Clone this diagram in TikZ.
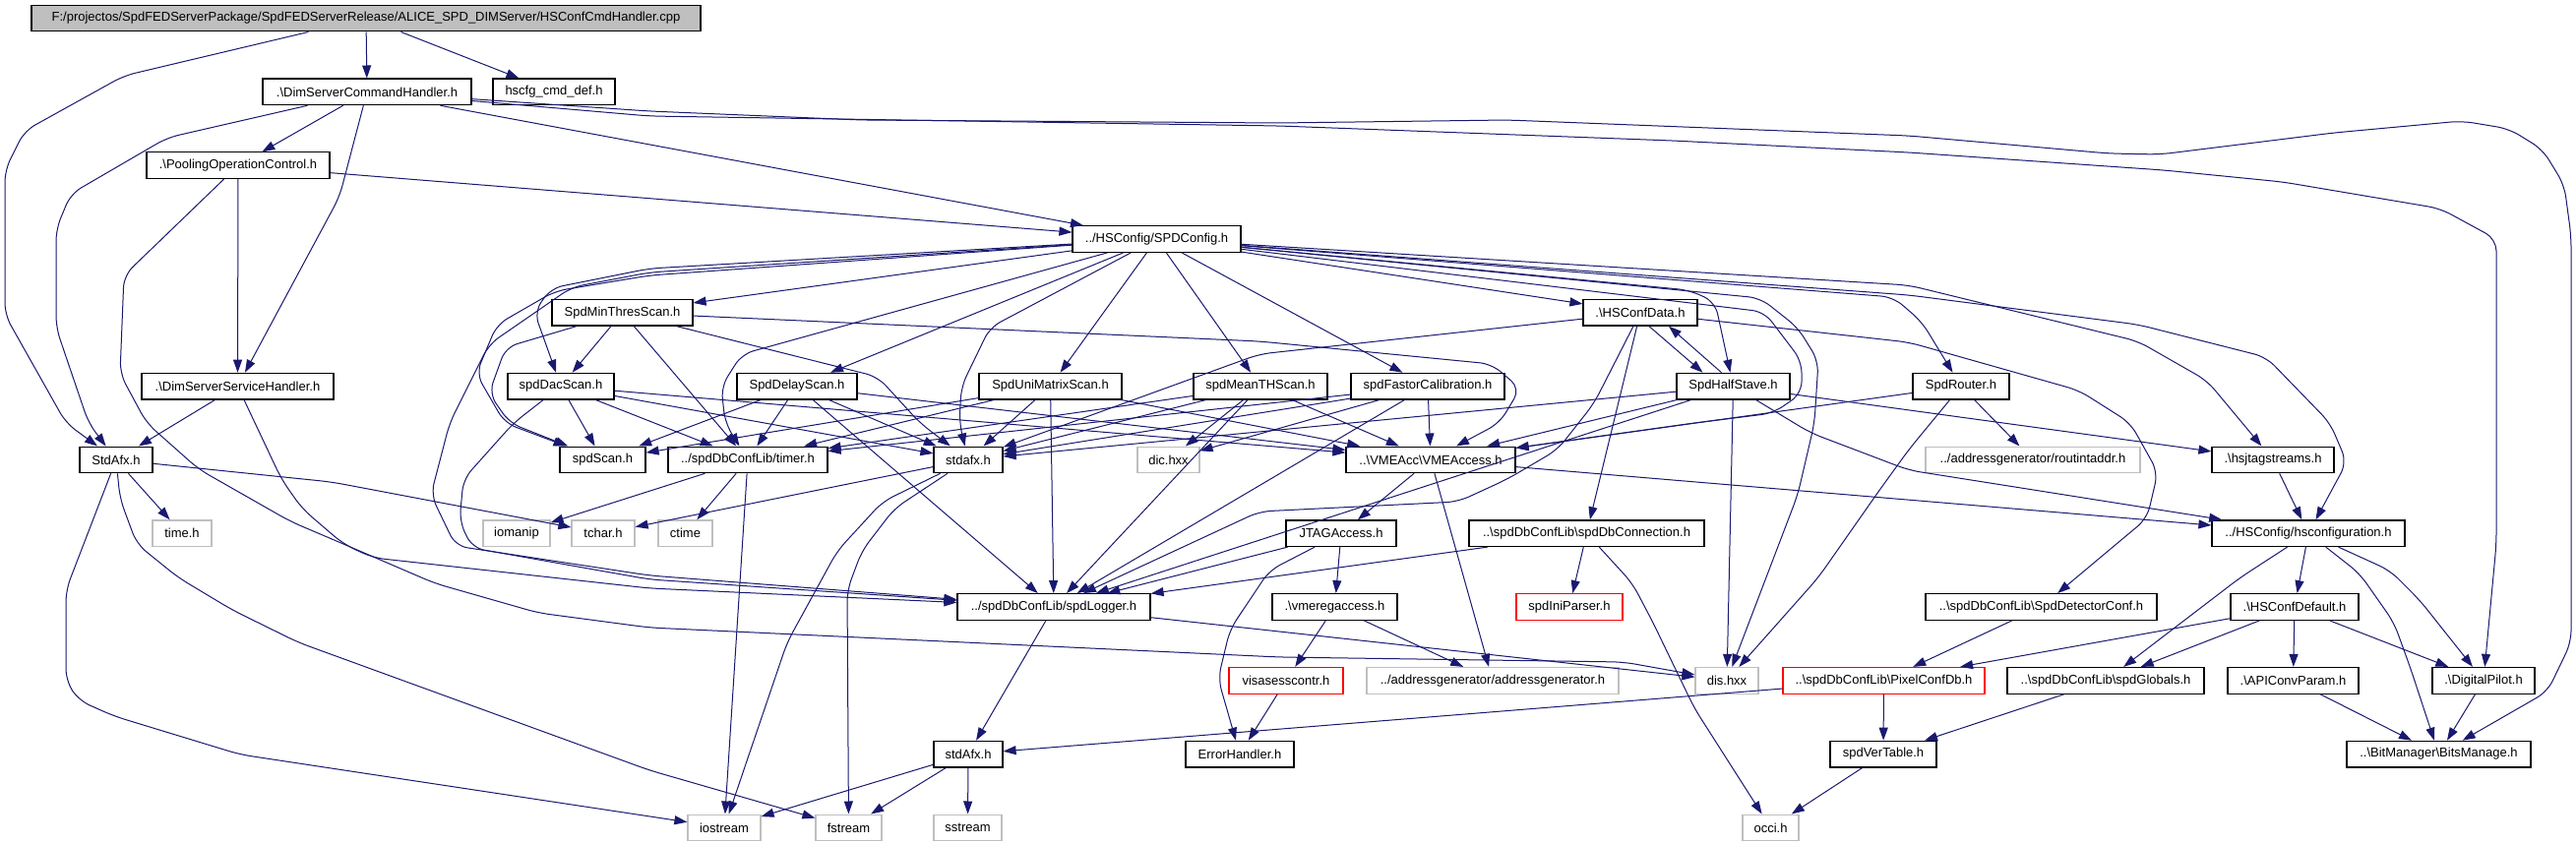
\documentclass[tikz,border=0pt]{standalone}
\usepackage{fontspec}
\setmainfont{Liberation Sans}
\usetikzlibrary{arrows.meta}
\definecolor{eblue}{HTML}{191970}
\definecolor{gbord}{HTML}{BFBFBF}
\newcommand{\bsl}{\textbackslash}
\begin{document}
\begin{tikzpicture}[x=1pt,y=-1pt,
  box/.style={draw=black, line width=1.2pt, minimum height=26.6pt, inner sep=0pt, font=\fontsize{13}{15}\selectfont, text=black},
  gbox/.style={box, draw=gbord},
  rbox/.style={box, draw=red},
  edge/.style={draw=eblue, line width=1pt, -{Triangle[length=13pt,width=9pt]}, rounded corners=12pt},
]
\useasboundingbox[fill=white] (0,0) rectangle (2618,858);
% rank 0-5
\node[box, fill=gbord, minimum width=680pt] (root) at (372,18.6) {F:/projectos/SpdFEDServerPackage/SpdFEDServerRelease/ALICE\_SPD\_DIMServer/HSConfCmdHandler.cpp};
\node[box, minimum width=212pt] (dsch) at (373,93.4) {.\bsl DimServerCommandHandler.h};
\node[box, minimum width=124pt] (hscfg) at (563,93.4) {hscfg\_cmd\_def.h};
\node[box, minimum width=186pt] (pool) at (242,168.2) {.\bsl PoolingOperationControl.h};
\node[box, minimum width=171pt] (spdcfg) at (1175.5,243) {../HSConfig/SPDConfig.h};
\node[box, minimum width=143pt] (minthr) at (632.5,317.8) {SpdMinThresScan.h};
\node[box, minimum width=116pt] (hsdata) at (1667,317.8) {.\bsl HSConfData.h};
\node[box, minimum width=195pt] (dssh) at (241.5,392.6) {.\bsl DimServerServiceHandler.h};
\node[box, minimum width=108pt] (dac) at (570,392.6) {spdDacScan.h};
\node[box, minimum width=122pt] (delay) at (810,392.6) {SpdDelayScan.h};
\node[box, minimum width=145pt] (unim) at (1067.5,392.6) {SpdUniMatrixScan.h};
\node[box, minimum width=136pt] (meanth) at (1281,392.6) {spdMeanTHScan.h};
\node[box, minimum width=156pt] (fastor) at (1451,392.6) {spdFastorCalibration.h};
\node[box, minimum width=115pt] (halfst) at (1761.5,392.6) {SpdHalfStave.h};
\node[box, minimum width=98pt] (router) at (1993,392.6) {SpdRouter.h};
% rank 6
\node[box, minimum width=74pt] (stdafxA) at (118,467.4) {StdAfx.h};
\node[box, minimum width=87pt] (scan) at (612.5,467.4) {spdScan.h};
\node[box, minimum width=162pt] (timer) at (760,467.4) {../spdDbConfLib/timer.h};
\node[box, minimum width=70pt] (stdafxB) at (984,467.4) {stdafx.h};
\node[gbox, minimum width=63pt] (dic) at (1187.5,467.4) {dic.hxx};
\node[box, minimum width=172pt] (vme) at (1454,467.4) {..\bsl VMEAcc\bsl VMEAccess.h};
\node[gbox, minimum width=218pt] (routaddr) at (2066,467.4) {../addressgenerator/routintaddr.h};
\node[box, minimum width=124pt] (hsjtag) at (2310,467.4) {.\bsl hsjtagstreams.h};
% rank 7
\node[gbox, minimum width=60pt] (timeh) at (185,542.2) {time.h};
\node[gbox, minimum width=68pt] (iomanip) at (525,542.2) {iomanip};
\node[gbox, minimum width=64pt] (tchar) at (613,542.2) {tchar.h};
\node[gbox, minimum width=55pt] (ctime) at (696.5,542.2) {ctime};
\node[box, minimum width=112pt] (jtag) at (1363,542.2) {JTAGAccess.h};
\node[box, minimum width=239pt] (dbconn) at (1612.5,542.2) {..\bsl spdDbConfLib\bsl spdDbConnection.h};
\node[box, minimum width=196pt] (hsconf) at (2346,542.2) {../HSConfig/hsconfiguration.h};
% rank 8
\node[box, minimum width=196pt] (logger) at (1071,617) {../spdDbConfLib/spdLogger.h};
\node[box, minimum width=127pt] (vmereg) at (1356.5,617) {.\bsl vmeregaccess.h};
\node[rbox, minimum width=108pt] (inipar) at (1595,617) {spdIniParser.h};
\node[box, minimum width=235pt] (detconf) at (2074.5,617) {..\bsl spdDbConfLib\bsl SpdDetectorConf.h};
\node[box, minimum width=130pt] (hsdef) at (2332,617) {.\bsl HSConfDefault.h};
% rank 9
\node[rbox, minimum width=116pt] (visa) at (1307,691.8) {visasesscontr.h};
\node[gbox, minimum width=256pt] (addrgen) at (1517,691.8) {../addressgenerator/addressgenerator.h};
\node[gbox, minimum width=64pt] (dis) at (1755,691.8) {dis.hxx};
\node[rbox, minimum width=205pt] (pixel) at (1914.5,691.8) {..\bsl spdDbConfLib\bsl PixelConfDb.h};
\node[box, minimum width=200pt] (globals) at (2140,691.8) {..\bsl spdDbConfLib\bsl spdGlobals.h};
\node[box, minimum width=133pt] (apiconv) at (2330.5,691.8) {.\bsl APIConvParam.h};
\node[box, minimum width=104pt] (digpilot) at (2524,691.8) {.\bsl DigitalPilot.h};
% rank 10
\node[box, minimum width=70pt] (stdafxC) at (984,766.6) {stdAfx.h};
\node[box, minimum width=110pt] (errh) at (1260,766.6) {ErrorHandler.h};
\node[box, minimum width=108pt] (vertab) at (1914,766.6) {spdVerTable.h};
\node[box, minimum width=187pt] (bits) at (2478.5,766.6) {..\bsl BitManager\bsl BitsManage.h};
% rank 11
\node[gbox, minimum width=74pt] (iostream) at (736,841.4) {iostream};
\node[gbox, minimum width=67pt] (fstream) at (862.5,841.4) {fstream};
\node[gbox, minimum width=69pt] (sstream) at (983.5,841.4) {sstream};
\node[gbox, minimum width=57pt] (occi) at (1799.5,841.4) {occi.h};

% ---- edges ----
% root
\draw[edge] (root) -- (dsch);
\draw[edge] (root) -- (hscfg);
\draw[edge] (root) -- (126,77) -- (25,133) -- (5,173) -- (5,320) -- (67,430) -- (stdafxA);
% DimServerCommandHandler
\draw[edge] (dsch) -- (pool);
\draw[edge] (dsch) -- (345,200) -- (dssh);
\draw[edge] (dsch) -- (170,140) -- (72,197) -- (57,233) -- (57,333) -- (90,430) -- (stdafxA);
\draw[edge] (dsch) -- (spdcfg);
\draw[edge] (dsch) -- (660,113) -- (875,122) -- (1300,125) -- (1532,122) -- (1940,138) -- (2143,156) -- (2195,157) -- (2372,135) -- (2502,123) -- (2550,131) -- (2584,152) -- (2606,188) -- (2613,240) -- (2613,653) -- (2589,703) -- (bits);
\draw[edge] (dsch) -- (660,118) -- (1300,128) -- (1700,143) -- (1940,155) -- (2199,173) -- (2320,185) -- (2480,212) -- (2537,243) -- (2537,553) -- (digpilot);
% Pooling
\draw[edge] (pool) -- (dssh);
\draw[edge] (pool) -- (spdcfg);
\draw[edge] (pool) -- (126,280) -- (122,380) -- (149,430) -- (202,477) -- (295,530) -- (349,553) -- (442,593) -- (547,623) -- (660,638) -- (1300,668) -- (1650,673) -- (dis);
% DimServerServiceHandler
\draw[edge] (dssh) -- (stdafxA);
\draw[edge] (dssh) -- (286,487) -- (307,517) -- (349,553) -- (379,567) -- (660,598) -- (logger);
% SPDConfig
\draw[edge] (spdcfg) -- (minthr);
\draw[edge] (spdcfg) -- (660,273) -- (560,293) -- (543,317) -- (dac);
\draw[edge] (spdcfg) -- (660,280) -- (564,296) -- (505,330) -- (484,380) -- (513,430) -- (scan);
\draw[edge] (spdcfg) -- (660,277) -- (581,292) -- (497,350) -- (457,430) -- (438,503) -- (463,555) -- (660,585) -- (logger);
\draw[edge] (spdcfg) -- (delay);
\draw[edge] (spdcfg) -- (754,360) -- (733,393) -- (737,430) -- (timer);
\draw[edge] (spdcfg) -- (1006,333) -- (977,393) -- (975,430) -- (stdafxB);
\draw[edge] (spdcfg) -- (unim);
\draw[edge] (spdcfg) -- (meanth);
\draw[edge] (spdcfg) -- (fastor);
\draw[edge] (spdcfg) -- (hsdata);
\draw[edge] (spdcfg) -- (1717,295) -- (1743,307) -- (halfst);
\draw[edge] (spdcfg) -- (1789,303) -- (1827,333) -- (1848,367) -- (1844,430) -- (1827,503) -- (dis);
\draw[edge] (spdcfg) -- (1793,317) -- (1831,367) -- (1831,400) -- (1802,420) -- (1722,430) -- (vme);
\draw[edge] (spdcfg) -- (1924,302) -- (1953,327) -- (router);
\draw[edge] (spdcfg) -- (1940,290) -- (2173,347) -- (2243,387) -- (hsjtag);
\draw[edge] (spdcfg) -- (1940,300) -- (2173,330) -- (2303,363) -- (2368,430) -- (2385,470) -- (hsconf);
% SpdMinThresScan
\draw[edge] (minthr) -- (dac);
\draw[edge] (minthr) -- (514,353) -- (497,400) -- (518,430) -- (scan);
\draw[edge] (minthr) -- (timer);
\draw[edge] (minthr) -- (892,383) -- (935,430) -- (stdafxB);
\draw[edge] (minthr) -- (1280,347) -- (1516,370) -- (1545,395) -- (1524,430) -- (vme);
% spdDacScan
\draw[edge] (dac) -- (scan);
\draw[edge] (dac) -- (timer);
\draw[edge] (dac) -- (stdafxB);
\draw[edge] (dac) -- (vme);
\draw[edge] (dac) -- (522,430) -- (471,487) -- (467,530) -- (480,557) -- (660,589) -- (logger);
% SpdDelayScan
\draw[edge] (delay) -- (scan);
\draw[edge] (delay) -- (timer);
\draw[edge] (delay) -- (stdafxB);
\draw[edge] (delay) -- (vme);
\draw[edge] (delay) -- (logger);
% SpdUniMatrixScan
\draw[edge] (unim) -- (scan);
\draw[edge] (unim) -- (timer);
\draw[edge] (unim) -- (stdafxB);
\draw[edge] (unim) -- (vme);
\draw[edge] (unim) -- (logger);
% spdMeanTHScan
\draw[edge] (meanth) -- (timer);
\draw[edge] (meanth) -- (stdafxB);
\draw[edge] (meanth) -- (vme);
\draw[edge] (meanth) -- (logger);
\draw[edge] (meanth) -- (dic);
% spdFastorCalibration
\draw[edge] (fastor) -- (timer);
\draw[edge] (fastor) -- (stdafxB);
\draw[edge] (fastor) -- (vme);
\draw[edge] (fastor) -- (logger);
\draw[edge] (fastor) -- (dic);
% HSConfData
\draw[edge] (hsdata) -- (1280,360) -- (stdafxB);
\draw[edge] (hsdata) -- (1620,410) -- (1583,457) -- (1532,487) -- (1482,510) -- (1280,520) -- (logger);
\draw[edge] (hsdata) -- (dbconn);
\draw[edge] (hsdata) -- (1940,348) -- (2113,397) -- (2165,430) -- (2193,480) -- (2182,527) -- (detconf);
\draw[edge] ([xshift=9pt]hsdata.south) -- ([xshift=-31pt]halfst.north);
% SpdHalfStave
\draw[edge] ([xshift=-12pt]halfst.north) -- ([xshift=29pt]hsdata.south);
\draw[edge] (halfst) -- (dis);
\draw[edge] (halfst) -- (vme);
\draw[edge] (halfst) -- (stdafxB);
\draw[edge] (halfst) -- (logger);
\draw[edge] (halfst) -- (hsjtag);
\draw[edge] (halfst) -- (1840,440) -- (1940,478) -- (hsconf);
% SpdRouter
\draw[edge] (router) -- (vme);
\draw[edge] (router) -- (routaddr);
\draw[edge] (router) -- (1940,457) -- (1911,497) -- (1848,587) -- (dis);
% VME and below
\draw[edge] (vme) -- (jtag);
\draw[edge] (vme) -- (addrgen);
\draw[edge] (vme) -- (hsconf);
\draw[edge] (jtag) -- (vmereg);
\draw[edge] (jtag) -- (logger);
\draw[edge] (jtag) -- (1290,580) -- (1250,640) -- (1238,690) -- (errh);
\draw[edge] (vmereg) -- (visa);
\draw[edge] (vmereg) -- (addrgen);
\draw[edge] (visa) -- (errh);
\draw[edge] (dbconn) -- (inipar);
\draw[edge] (dbconn) -- (logger);
\draw[edge] (dbconn) -- (1659,593) -- (1680,633) -- (1722,720) -- (occi);
\draw[edge] (logger) -- (stdafxC);
\draw[edge] (logger) -- (dis);
\draw[edge] (pixel) -- (stdafxC);
\draw[edge] (pixel) -- (vertab);
\draw[edge] (detconf) -- (pixel);
\draw[edge] (globals) -- (vertab);
\draw[edge] (vertab) -- (occi);
\draw[edge] (hsjtag) -- (hsconf);
\draw[edge] (hsconf) -- (hsdef);
\draw[edge] (hsconf) -- (2277,587) -- (globals);
\draw[edge] (hsconf) -- (2429,580) -- (2459,610) -- (digpilot);
\draw[edge] (hsconf) -- (2398,583) -- (2433,633) -- (2450,680) -- (bits);
\draw[edge] (hsdef) -- (pixel);
\draw[edge] (hsdef) -- (globals);
\draw[edge] (hsdef) -- (apiconv);
\draw[edge] (hsdef) -- (digpilot);
\draw[edge] (apiconv) -- (bits);
\draw[edge] (digpilot) -- (bits);
\draw[edge] (stdafxC) -- (iostream);
\draw[edge] (stdafxC) -- (fstream);
\draw[edge] (stdafxC) -- (sstream);
% StdAfx.h (upper left)
\draw[edge] (stdafxA) -- (timeh);
\draw[edge] (stdafxA) -- (337,490) -- (tchar);
\draw[edge] (stdafxA) -- (67,600) -- (67,692) -- (80,712) -- (116,728) -- (244,767) -- (iostream);
\draw[edge] (stdafxA) -- (122,507) -- (139,553) -- (181,587) -- (236,620) -- (303,653) -- (660,783) -- (fstream);
% stdafx.h
\draw[edge] (stdafxB) -- (tchar);
\draw[edge] (stdafxB) -- (897,510) -- (851,560) -- (800,653) -- (iostream);
\draw[edge] (stdafxB) -- (909,517) -- (876,560) -- (861,600) -- (fstream);
% timer
\draw[edge] (timer) -- (iomanip);
\draw[edge] (timer) -- (ctime);
\draw[edge] (timer) -- (iostream);
\end{tikzpicture}
\end{document}
